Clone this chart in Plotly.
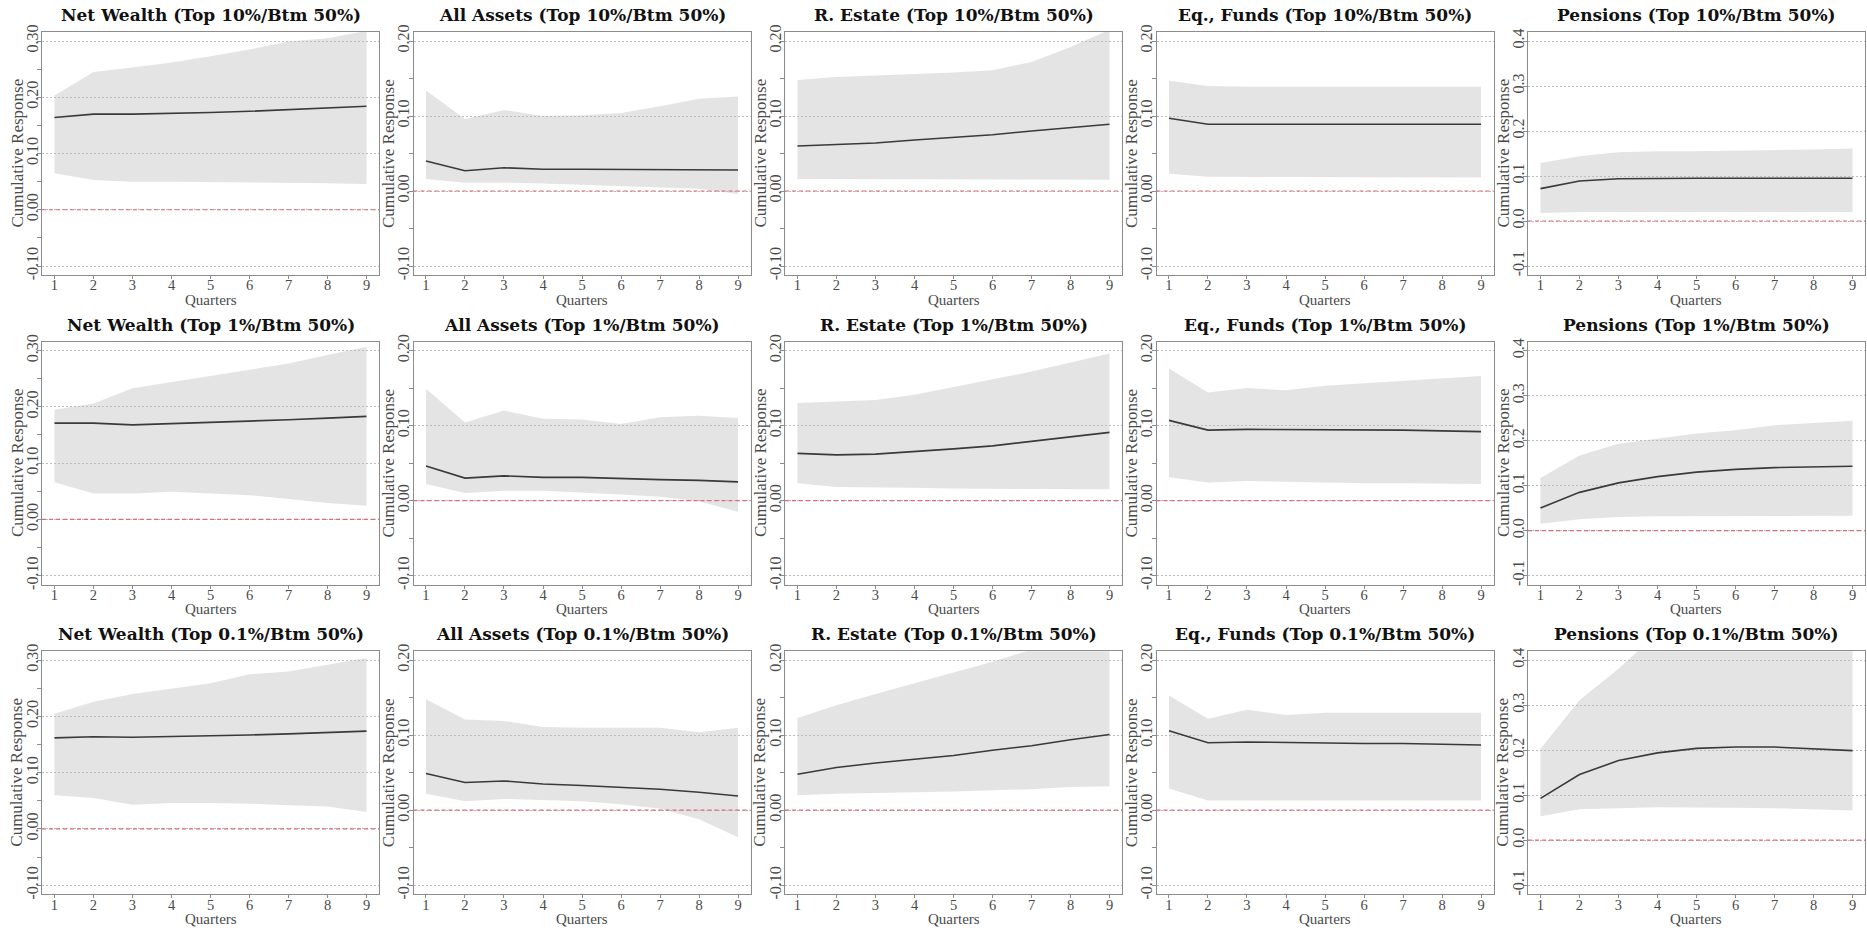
import plotly.graph_objects as go

quarters = [1, 2, 3, 4, 5, 6, 7, 8, 9]

series_names = ["Net Wealth", "All Assets", "R. Estate", "Eq., Funds", "Pensions"]
group_names = ["Top 10%", "Top 1%", "Top 0.1%"]
x_title = "Quarters"
y_title = "Cumulative Response"

# ---- Top 10% / Bottom 50% ----
nw10_med = [0.164, 0.170, 0.170, 0.171, 0.173, 0.175, 0.178, 0.181, 0.184]
nw10_hi = [0.203, 0.245, 0.253, 0.262, 0.273, 0.285, 0.299, 0.305, 0.318]
nw10_lo = [0.065, 0.053, 0.050, 0.050, 0.049, 0.049, 0.048, 0.047, 0.046]

aa10_med = [0.040, 0.027, 0.031, 0.029, 0.029, 0.029, 0.029, 0.029, 0.028]
aa10_hi = [0.134, 0.096, 0.108, 0.100, 0.101, 0.104, 0.113, 0.123, 0.126]
aa10_lo = [0.016, 0.011, 0.011, 0.010, 0.009, 0.007, 0.005, 0.003, -0.004]

re10_med = [0.060, 0.062, 0.064, 0.068, 0.071, 0.075, 0.080, 0.084, 0.089]
re10_hi = [0.148, 0.152, 0.154, 0.156, 0.158, 0.161, 0.172, 0.192, 0.215]
re10_lo = [0.016, 0.016, 0.016, 0.016, 0.016, 0.016, 0.015, 0.015, 0.015]

ef10_med = [0.097, 0.089, 0.089, 0.089, 0.089, 0.089, 0.089, 0.089, 0.089]
ef10_hi = [0.147, 0.140, 0.139, 0.139, 0.139, 0.139, 0.139, 0.139, 0.139]
ef10_lo = [0.023, 0.019, 0.018, 0.018, 0.018, 0.018, 0.018, 0.018, 0.018]

pe10_med = [0.072, 0.089, 0.094, 0.095, 0.095, 0.095, 0.095, 0.095, 0.095]
pe10_hi = [0.129, 0.144, 0.153, 0.155, 0.155, 0.156, 0.157, 0.159, 0.161]
pe10_lo = [0.018, 0.020, 0.020, 0.020, 0.020, 0.020, 0.020, 0.020, 0.020]

# ---- Top 1% / Bottom 50% ----
nw1_med = [0.171, 0.171, 0.168, 0.170, 0.172, 0.174, 0.177, 0.180, 0.183]
nw1_hi = [0.195, 0.206, 0.233, 0.244, 0.255, 0.266, 0.277, 0.292, 0.307]
nw1_lo = [0.066, 0.046, 0.046, 0.049, 0.046, 0.043, 0.036, 0.029, 0.024]

aa1_med = [0.046, 0.030, 0.033, 0.031, 0.031, 0.029, 0.028, 0.027, 0.025]
aa1_hi = [0.149, 0.104, 0.120, 0.109, 0.108, 0.102, 0.111, 0.113, 0.110]
aa1_lo = [0.022, 0.010, 0.013, 0.013, 0.011, 0.008, 0.005, -0.001, -0.015]

re1_med = [0.063, 0.061, 0.062, 0.065, 0.069, 0.073, 0.079, 0.084, 0.091]
re1_hi = [0.130, 0.132, 0.134, 0.141, 0.151, 0.161, 0.172, 0.184, 0.196]
re1_lo = [0.023, 0.018, 0.017, 0.017, 0.016, 0.016, 0.015, 0.015, 0.015]

ef1_med = [0.107, 0.094, 0.095, 0.095, 0.094, 0.094, 0.094, 0.093, 0.092]
ef1_hi = [0.176, 0.144, 0.150, 0.147, 0.153, 0.156, 0.160, 0.162, 0.166]
ef1_lo = [0.031, 0.024, 0.026, 0.025, 0.024, 0.023, 0.023, 0.023, 0.022]

pe1_med = [0.050, 0.085, 0.106, 0.120, 0.130, 0.136, 0.140, 0.141, 0.143]
pe1_hi = [0.117, 0.167, 0.193, 0.204, 0.216, 0.223, 0.234, 0.239, 0.244]
pe1_lo = [0.015, 0.025, 0.030, 0.032, 0.033, 0.033, 0.033, 0.033, 0.033]

# ---- Top 0.1% / Bottom 50% ----
nw01_med = [0.162, 0.164, 0.163, 0.164, 0.165, 0.167, 0.169, 0.171, 0.174]
nw01_hi = [0.205, 0.226, 0.240, 0.249, 0.259, 0.275, 0.280, 0.292, 0.304]
nw01_lo = [0.060, 0.055, 0.043, 0.046, 0.046, 0.045, 0.042, 0.040, 0.030]

aa01_med = [0.049, 0.037, 0.039, 0.035, 0.033, 0.031, 0.028, 0.024, 0.019]
aa01_hi = [0.148, 0.121, 0.119, 0.111, 0.110, 0.110, 0.110, 0.104, 0.110]
aa01_lo = [0.022, 0.012, 0.015, 0.013, 0.012, 0.008, 0.002, -0.012, -0.036]

re01_med = [0.048, 0.057, 0.063, 0.068, 0.073, 0.080, 0.086, 0.094, 0.101]
re01_hi = [0.123, 0.140, 0.155, 0.169, 0.183, 0.198, 0.214, 0.232, 0.250]
re01_lo = [0.020, 0.022, 0.023, 0.024, 0.025, 0.026, 0.028, 0.031, 0.032]

ef01_med = [0.106, 0.090, 0.091, 0.090, 0.090, 0.089, 0.089, 0.088, 0.087]
ef01_hi = [0.153, 0.122, 0.134, 0.127, 0.130, 0.130, 0.130, 0.130, 0.130]
ef01_lo = [0.029, 0.013, 0.013, 0.013, 0.013, 0.013, 0.013, 0.013, 0.013]

pe01_med = [0.093, 0.146, 0.177, 0.194, 0.204, 0.207, 0.207, 0.203, 0.199]
pe01_hi = [0.203, 0.311, 0.381, 0.460, 0.500, 0.520, 0.540, 0.550, 0.560]
pe01_lo = [0.053, 0.069, 0.071, 0.073, 0.072, 0.072, 0.071, 0.069, 0.066]

# y-axis limits and tick labels per column
ylim_nw = [-0.1, 0.3]
ylim_asset = [-0.1, 0.2]
ylim_pe = [-0.1, 0.4]
yticks_nw = [-0.1, 0.0, 0.1, 0.2, 0.3]
ylabels_nw = ["-0.10", "0.00", "0.10", "0.20", "0.30"]
yminor_nw = [-0.05, 0.05, 0.15, 0.25]
yticks_asset = [-0.1, 0.0, 0.1, 0.2]
ylabels_asset = ["-0.10", "0.00", "0.10", "0.20"]
yminor_asset = [-0.05, 0.05, 0.15]
yticks_pe = [-0.1, 0.0, 0.1, 0.2, 0.3, 0.4]
ylabels_pe = ["-0.1", "0.0", "0.1", "0.2", "0.3", "0.4"]

panels = [
    [(nw10_med, nw10_lo, nw10_hi), (aa10_med, aa10_lo, aa10_hi), (re10_med, re10_lo, re10_hi),
     (ef10_med, ef10_lo, ef10_hi), (pe10_med, pe10_lo, pe10_hi)],
    [(nw1_med, nw1_lo, nw1_hi), (aa1_med, aa1_lo, aa1_hi), (re1_med, re1_lo, re1_hi),
     (ef1_med, ef1_lo, ef1_hi), (pe1_med, pe1_lo, pe1_hi)],
    [(nw01_med, nw01_lo, nw01_hi), (aa01_med, aa01_lo, aa01_hi), (re01_med, re01_lo, re01_hi),
     (ef01_med, ef01_lo, ef01_hi), (pe01_med, pe01_lo, pe01_hi)],
]
col_axes = [
    (ylim_nw, yticks_nw, ylabels_nw, yminor_nw),
    (ylim_asset, yticks_asset, ylabels_asset, yminor_asset),
    (ylim_asset, yticks_asset, ylabels_asset, yminor_asset),
    (ylim_asset, yticks_asset, ylabels_asset, yminor_asset),
    (ylim_pe, yticks_pe, ylabels_pe, []),
]

W, H = 1867, 928
LEFT0, COLSTEP, PW = 42.0, 371.5, 337.0
TOP0, ROWSTEP, PH = 32.0, 309.6, 243.0

TXT = "#4a4a4a"
FRAME = "#8c8c8c"
SERIF = "Liberation Serif"

fig = go.Figure()
annotations = []
shapes = []
layout_axes = {}

xlim = [1, 9]
xpad = 0.04 * (xlim[1] - xlim[0])

for r in range(3):
    for c in range(5):
        n = r * 5 + c + 1
        xa = "x" if n == 1 else f"x{n}"
        ya = "y" if n == 1 else f"y{n}"
        med, lo, hi = panels[r][c]
        ylim, ytv, ytt, ymin = col_axes[c]
        ypad = 0.04 * (ylim[1] - ylim[0])

        fig.add_trace(go.Scatter(
            x=quarters + quarters[::-1], y=hi + lo[::-1],
            fill="toself", fillcolor="rgba(190,190,190,0.42)",
            line=dict(width=0), mode="lines", hoverinfo="skip",
            showlegend=False, xaxis=xa, yaxis=ya))
        fig.add_trace(go.Scatter(
            x=quarters, y=med, mode="lines",
            line=dict(color="#3a3a3a", width=1.6),
            showlegend=False, xaxis=xa, yaxis=ya))

        left = LEFT0 + c * COLSTEP
        top = TOP0 + r * ROWSTEP
        xd = [left / W, (left + PW) / W]
        yd = [1 - (top + PH) / H, 1 - top / H]

        xkey = "xaxis" if n == 1 else f"xaxis{n}"
        ykey = "yaxis" if n == 1 else f"yaxis{n}"
        layout_axes[xkey] = dict(
            domain=xd, anchor=ya, range=[xlim[0] - xpad, xlim[1] + xpad],
            tickvals=quarters, ticktext=[str(q) for q in quarters],
            ticks="outside", ticklen=3, tickcolor=FRAME,
            ticklabelstandoff=-6,
            showgrid=False, zeroline=False,
            showline=True, mirror=True, linecolor=FRAME, linewidth=1,
            tickfont=dict(family=SERIF, size=14.5, color=TXT),
            automargin=False,
        )
        ydict = dict(
            domain=yd, anchor=xa, range=[ylim[0] - ypad, ylim[1] + ypad],
            tickvals=ytv, ticktext=ytt, tickangle=-90,
            ticks="outside", ticklen=4, tickcolor=FRAME,
            ticklabelstandoff=-7,
            showgrid=True, gridcolor="#bcbcbc", griddash="2px,2px", gridwidth=1,
            zeroline=False,
            showline=True, mirror=True, linecolor=FRAME, linewidth=1,
            tickfont=dict(family=SERIF, size=16, color=TXT),
            automargin=False,
        )
        if ymin:
            ydict["minor"] = dict(tickvals=ymin, ticks="outside", ticklen=4,
                                  tickcolor=FRAME, showgrid=False)
        layout_axes[ykey] = ydict

        shapes.append(dict(
            type="line", xref=f"{xa} domain", yref=ya, x0=0, x1=1, y0=0, y1=0,
            line=dict(color="#e06a78", width=1.2, dash="4px,3px"), layer="above"))

        # panel title
        annotations.append(dict(
            text=f"<b>{series_names[c]} ({group_names[r]}/Btm 50%)</b>",
            x=(xd[0] + xd[1]) / 2, y=1 - (top - 17) / H,
            xref="paper", yref="paper", xanchor="center", yanchor="middle",
            showarrow=False,
            font=dict(family="DejaVu Serif", size=17, color="#111111")))
        # x-axis title
        annotations.append(dict(
            text=x_title,
            x=(xd[0] + xd[1]) / 2, y=1 - (top + PH + 24.5) / H,
            xref="paper", yref="paper", xanchor="center", yanchor="middle",
            showarrow=False,
            font=dict(family=SERIF, size=15, color=TXT)))
        # y-axis title
        annotations.append(dict(
            text=y_title, textangle=-90,
            x=(left - 25) / W, y=(yd[0] + yd[1]) / 2,
            xref="paper", yref="paper", xanchor="center", yanchor="middle",
            showarrow=False,
            font=dict(family=SERIF, size=17, color=TXT)))

fig.update_layout(
    width=W, height=H, autosize=False,
    margin=dict(l=0, r=0, t=0, b=0),
    paper_bgcolor="white", plot_bgcolor="white",
    annotations=annotations, shapes=shapes,
    showlegend=False,
    **layout_axes,
)

fig.write_html(
    "out.html",
    config={"displayModeBar": False},
    post_script="document.body.style.margin='0';document.body.style.padding='0';"
                "document.body.style.overflow='hidden';",
)
